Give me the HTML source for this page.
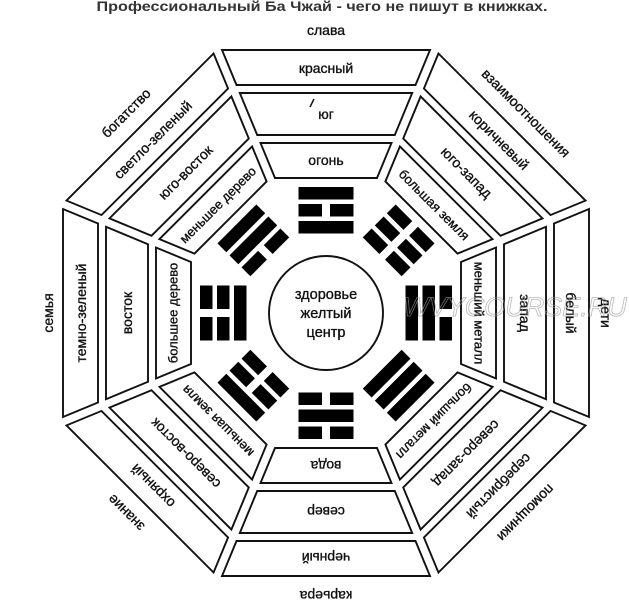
<!DOCTYPE html>
<html><head><meta charset="utf-8"><style>
html,body{margin:0;padding:0;background:#fff;}
svg{display:block;}
text{font-family:"Liberation Sans","DejaVu Sans",sans-serif;fill:#111;}
.t text{stroke:#111;stroke-width:0.35;}
</style></head><body>
<svg width="629" height="612" viewBox="0 0 629 612" xmlns="http://www.w3.org/2000/svg">
<defs>
<g id="bands" fill="#fff" stroke="#111" stroke-width="1.9">
<polygon points="-104,-263 104,-263 89.5,-228 -89.5,-228"/>
<polygon points="-86.2,-220 86.2,-220 68.8,-178 -68.8,-178"/>
<polygon points="-65.5,-170 65.5,-170 51,-135 -51,-135"/>
</g>
<g id="s"><rect x="-27.5" y="0" width="55" height="12.5"/></g>
<g id="b"><rect x="-27.5" y="0" width="23.5" height="12.5"/><rect x="4" y="0" width="23.5" height="12.5"/></g>
</defs>
<text x="322" y="11" text-anchor="middle" font-size="14" font-weight="bold" style="fill:#333" textLength="451" lengthAdjust="spacingAndGlyphs">Профессиональный Ба Чжай - чего не пишут в книжках.</text>

<g class="t" transform="translate(326,313)" font-size="14" text-anchor="middle" dominant-baseline="central">
<g transform="rotate(0)"><use href="#bands"/>
<text y="-283">слава</text><text y="-245">красный</text><text y="-199">юг</text><text y="-153">огонь</text>
<use href="#s" y="-126"/><use href="#b" y="-109"/><use href="#s" y="-92"/></g>
<g transform="rotate(45)"><use href="#bands"/>
<text y="-283">взаимоотношения</text><text y="-245">коричневый</text><text y="-199">юго-запад</text><text y="-153" font-size="13">большая земля</text>
<use href="#b" y="-126"/><use href="#b" y="-109"/><use href="#b" y="-92"/></g>
<g transform="rotate(90)"><use href="#bands"/>
<text y="-280">дети</text><text y="-245">белый</text><text y="-199">запад</text><text y="-153" font-size="13">меньший металл</text>
<use href="#b" y="-126"/><use href="#s" y="-109"/><use href="#s" y="-92"/></g>
<g transform="rotate(135)"><use href="#bands"/>
<text y="-283">помощники</text><text y="-245">серебристый</text><text y="-199">северо-запад</text><text y="-153" font-size="13">больший металл</text>
<use href="#s" y="-126"/><use href="#s" y="-109"/><use href="#s" y="-92"/></g>
<g transform="rotate(180)"><use href="#bands"/>
<text y="-283">карьера</text><text y="-245">черный</text><text y="-199">север</text><text y="-153">вода</text>
<use href="#b" y="-126"/><use href="#s" y="-109"/><use href="#b" y="-92"/></g>
<g transform="rotate(225)"><use href="#bands"/>
<text y="-283">знание</text><text y="-245">охряный</text><text y="-199">северо-восток</text><text y="-153" font-size="13">меньшая земля</text>
<use href="#s" y="-126"/><use href="#b" y="-109"/><use href="#b" y="-92"/></g>
<g transform="rotate(270)"><use href="#bands"/>
<text y="-278">семья</text><text y="-245">темно-зеленый</text><text y="-199">восток</text><text y="-153" font-size="13">большее дерево</text>
<use href="#b" y="-126"/><use href="#b" y="-109"/><use href="#s" y="-92"/></g>
<g transform="rotate(315)"><use href="#bands"/>
<text y="-283">богатство</text><text y="-245">светло-зеленый</text><text y="-199">юго-восток</text><text y="-153" font-size="13">меньшее дерево</text>
<use href="#s" y="-126"/><use href="#s" y="-109"/><use href="#b" y="-92"/></g>

<circle cx="0" cy="0" r="57" fill="#fff" stroke="#111" stroke-width="1.9"/>
<text y="-18" font-size="14.5">здоровье</text>
<text y="1" font-size="14.5">желтый</text>
<text y="20" font-size="14.5">центр</text>
</g>
<line x1="314" y1="99" x2="310" y2="107" stroke="#111" stroke-width="1.5"/>
<text x="515" y="316" text-anchor="middle" font-size="27" font-style="italic" style="fill:none;stroke:#999;stroke-width:0.8" opacity="0.7">WVYCOURSE.RU</text>
</svg>
</body></html>
